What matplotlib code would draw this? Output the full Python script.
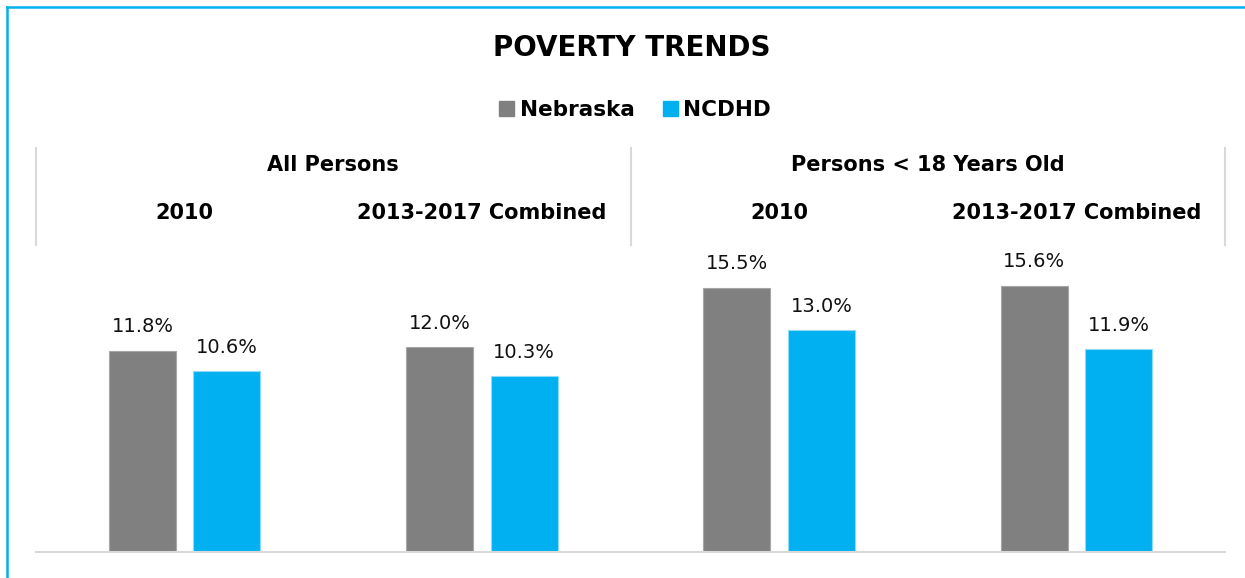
import matplotlib.pyplot as plt
from matplotlib.patches import Patch
from matplotlib.lines import Line2D
import numpy as np

# poverty rates (%) by group and period
groups = ['All Persons', 'Persons < 18 Years Old']
periods = ['2010', '2013-2017 Combined', '2010', '2013-2017 Combined']
nebraska = [11.8, 12.0, 15.5, 15.6]
ncdhd = [10.6, 10.3, 13.0, 11.9]

GRAY = '#808080'
BLUE = '#00b0f0'
SEP = '#d9d9d9'

plt.rcParams['font.family'] = ['DejaVu Sans']

fig = plt.figure(figsize=(12.45, 5.78), dpi=100)
ax = fig.add_axes([36 / 1245, 26 / 578, 1189 / 1245, 307 / 578])

x = np.arange(len(periods))
w = 0.225
off = 0.142
b1 = ax.bar(x - off, nebraska, w, color=GRAY, edgecolor='#a6a6a6', linewidth=0.8)
b2 = ax.bar(x + off, ncdhd, w, color=BLUE, edgecolor='#8fdaf7', linewidth=0.8)

for bars, vals in ((b1, nebraska), (b2, ncdhd)):
    for r, v in zip(bars, vals):
        ax.text(r.get_x() + r.get_width() / 2, v + 0.85, f'{v:.1f}%',
                ha='center', va='bottom', fontsize=14, color='#111111')

ax.set_xlim(-0.5, len(periods) - 0.5)
ax.set_ylim(0, 18)
ax.set_yticks([])
ax.set_xticks([])
for s in ('top', 'left', 'right'):
    ax.spines[s].set_visible(False)
ax.spines['bottom'].set_color(SEP)
ax.spines['bottom'].set_linewidth(1.5)

# category headers above the plot area
tr = ax.get_xaxis_transform()
for i, p in enumerate(periods):
    ax.text(i, 1.104, p, transform=tr, ha='center', va='center',
            fontsize=15, fontweight='bold', color='black')
for g, name in enumerate(groups):
    ax.text(2 * g + 0.5, 1.26, name, transform=tr, ha='center', va='center',
            fontsize=15, fontweight='bold', color='black')
for xs in (-0.5, 1.5, 3.5):
    ax.plot([xs, xs], [1.0, 1.316], transform=tr, color=SEP, lw=1.5,
            clip_on=False)

fig.text(632 / 1245, 1 - 48 / 578, 'POVERTY TRENDS', ha='center', va='center',
         fontsize=20, fontweight='bold', color='black')

handles = [Patch(facecolor=GRAY, edgecolor=GRAY, label='Nebraska'),
           Patch(facecolor=BLUE, edgecolor=BLUE, label='NCDHD')]
fig.legend(handles=handles, loc='center', bbox_to_anchor=(635 / 1245, 1 - 110 / 578),
           ncol=2, frameon=False, handlelength=0.7, handleheight=0.7,
           handletextpad=0.25, columnspacing=1.3,
           prop={'size': 15.5, 'weight': 'bold'})

# frame around the chart
fig.add_artist(Line2D([6.5 / 1245, 6.5 / 1245], [0, 1 - 6.5 / 578],
                      transform=fig.transFigure, color=BLUE, lw=1.8))
fig.add_artist(Line2D([6.5 / 1245, 1], [1 - 6.5 / 578, 1 - 6.5 / 578],
                      transform=fig.transFigure, color=BLUE, lw=1.8))

fig.savefig('out.png', dpi=100)
